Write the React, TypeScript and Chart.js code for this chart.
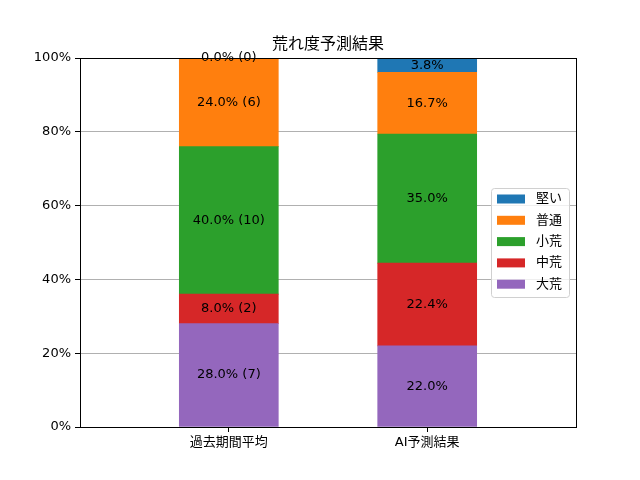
import React, { useRef, useEffect } from "react";
import { Chart, registerables } from "chart.js";

Chart.register(...registerables);

const FONT = "'DejaVu Sans', 'Noto Sans CJK JP', sans-serif";

const categories = ["過去期間平均", "AI予測結果"];
// stacking order, bottom to top
const seriesNames = ["大荒", "中荒", "小荒", "普通", "堅い"];
const seriesColors = ["#9467bd", "#d62728", "#2ca02c", "#ff7f0e", "#1f77b4"];
const pastValues = [28.0, 8.0, 40.0, 24.0, 0.0];
const pastCounts = [7, 2, 10, 6, 0];
const aiValues = [22.0, 22.4, 35.0, 16.7, 3.8];
const yTicks = [0, 20, 40, 60, 80, 100];

const labelPlugin = {
  id: "segLabels",
  afterDatasetsDraw(chart: any) {
    const ctx = chart.ctx;
    ctx.save();
    ctx.font = `13px ${FONT}`;
    ctx.fillStyle = "#000";
    ctx.textAlign = "center";
    ctx.textBaseline = "middle";
    chart.data.datasets.forEach((ds: any, di: number) => {
      const meta = chart.getDatasetMeta(di);
      meta.data.forEach((el: any, i: number) => {
        const p = el.getProps(["x", "y", "base"], true);
        const cy = (p.y + p.base) / 2;
        const v = i === 0 ? pastValues[di] : aiValues[di];
        const text = i === 0 ? `${v.toFixed(1)}% (${pastCounts[di]})` : `${v.toFixed(1)}%`;
        ctx.fillText(text, p.x, cy);
      });
    });
    ctx.restore();
  },
  afterDraw(chart: any) {
    const ctx = chart.ctx;
    const a = chart.chartArea;
    ctx.save();
    // spines
    ctx.strokeStyle = "#000";
    ctx.lineWidth = 1;
    ctx.strokeRect(Math.round(a.left) + 0.5, Math.round(a.top) + 0.5, Math.round(a.right - a.left), Math.round(a.bottom - a.top));
    // title
    ctx.font = `16px ${FONT}`;
    ctx.fillStyle = "#000";
    ctx.textAlign = "center";
    ctx.textBaseline = "middle";
    ctx.fillText("荒れ度予測結果", (a.left + a.right) / 2, 45);
    // legend
    const w = 78;
    const h = 109;
    const lx = a.right - 7 - w;
    const ly = (a.top + a.bottom) / 2 - h / 2;
    ctx.fillStyle = "rgba(255,255,255,0.8)";
    ctx.strokeStyle = "#d0d0d0";
    ctx.beginPath();
    ctx.roundRect(lx + 0.5, ly + 0.5, w, h, 3);
    ctx.fill();
    ctx.stroke();
    ctx.font = `13px ${FONT}`;
    ctx.textAlign = "left";
    const order = [4, 3, 2, 1, 0];
    order.forEach((si, k) => {
      const cy = ly + 11 + k * 21.3;
      ctx.fillStyle = seriesColors[si];
      ctx.fillRect(lx + 6, cy - 4.5, 28, 9);
      ctx.fillStyle = "#000";
      ctx.fillText(seriesNames[si], lx + 45, cy);
    });
    ctx.restore();
  },
};

export default function App() {
  const canvasRef = useRef<HTMLCanvasElement>(null);

  useEffect(() => {
    document.body.style.margin = "0";
    if (!canvasRef.current) return;
    const datasets = seriesNames.map((name, si) => ({
      label: name,
      data: [
        { x: 0, y: pastValues[si] },
        { x: 1, y: aiValues[si] },
      ],
      backgroundColor: seriesColors[si],
      borderWidth: 0,
      barThickness: 99,
    }));
    const chart = new Chart(canvasRef.current, {
      type: "bar",
      data: { datasets },
      options: {
        animation: false,
        responsive: false,
        maintainAspectRatio: false,
        layout: { padding: { left: 0, right: 64, top: 58, bottom: 0 } },
        plugins: {
          legend: { display: false },
          title: { display: false },
          tooltip: { enabled: false },
        },
        scales: {
          x: {
            type: "linear",
            stacked: true,
            offset: false,
            min: -0.75,
            max: 1.75,
            afterBuildTicks: (s: any) => {
              s.ticks = categories.map((_, i) => ({ value: i }));
            },
            afterFit: (s: any) => {
              s.height = 53;
            },
            grid: {
              offset: false,
              drawOnChartArea: false,
              drawTicks: true,
              tickLength: 5,
              tickColor: "#000",
            },
            border: { display: false },
            ticks: {
              color: "#000",
              padding: 3,
              font: { family: FONT, size: 13 },
              callback: (v: any) => categories[Number(v)] ?? "",
              maxRotation: 0,
              autoSkip: false,
            },
          },
          y: {
            stacked: true,
            min: 0,
            max: 100,
            afterBuildTicks: (s: any) => {
              s.ticks = yTicks.map((v) => ({ value: v }));
            },
            afterFit: (s: any) => {
              s.width = 80;
            },
            grid: {
              color: "#b0b0b0",
              lineWidth: 1,
              drawTicks: true,
              tickLength: 5,
              tickColor: "#000",
            },
            border: { display: false },
            ticks: {
              color: "#000",
              padding: 4,
              font: { family: FONT, size: 13 },
              callback: (v: any) => `${v}%`,
            },
          },
        },
      },
      plugins: [labelPlugin],
    } as any);
    return () => chart.destroy();
  }, []);

  return (
    <div style={{ width: 640, height: 480 }}>
      <canvas ref={canvasRef} width={640} height={480} style={{ width: 640, height: 480 }} />
    </div>
  );
}
